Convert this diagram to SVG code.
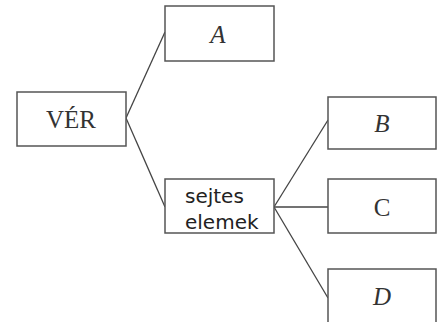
<svg xmlns="http://www.w3.org/2000/svg" width="438" height="322" viewBox="0 0 438 322">
<style>
.box{fill:#fff;stroke:#555;stroke-width:1.5}
.ser{font-family:"Liberation Serif","DejaVu Serif",serif;font-size:25px;fill:#333;text-anchor:middle}
.it{font-style:italic}
.sans{font-family:"DejaVu Sans","Liberation Sans",sans-serif;font-size:20px;fill:#222}
.conn line{stroke:#444;stroke-width:1.3}
</style>
<rect width="438" height="322" fill="#fff"/>
<g class="conn">
<line x1="126" y1="118" x2="165" y2="32"/>
<line x1="126" y1="118" x2="165" y2="207"/>
<line x1="274" y1="207" x2="328" y2="120"/>
<line x1="274" y1="207" x2="328" y2="207"/>
<line x1="274" y1="207" x2="328" y2="298"/>
</g>
<g id="ver"><rect class="box" x="17" y="92" width="109" height="54"/><text class="ser" x="71" y="128">VÉR</text></g>
<g id="a"><rect class="box" x="165" y="6" width="109" height="55"/><text class="ser it" x="218" y="43">A</text></g>
<g id="sejtes"><rect class="box" x="165" y="179" width="109" height="54"/><text class="sans" x="185" y="203">sejtes</text><text class="sans" x="185" y="229">elemek</text></g>
<g id="b"><rect class="box" x="328" y="97" width="108" height="52"/><text class="ser it" x="382" y="132">B</text></g>
<g id="c"><rect class="box" x="328" y="179" width="108" height="54"/><text class="ser" x="382" y="216">C</text></g>
<g id="d"><rect class="box" x="328" y="269" width="108" height="60"/><text class="ser it" x="382" y="305">D</text></g>
</svg>
